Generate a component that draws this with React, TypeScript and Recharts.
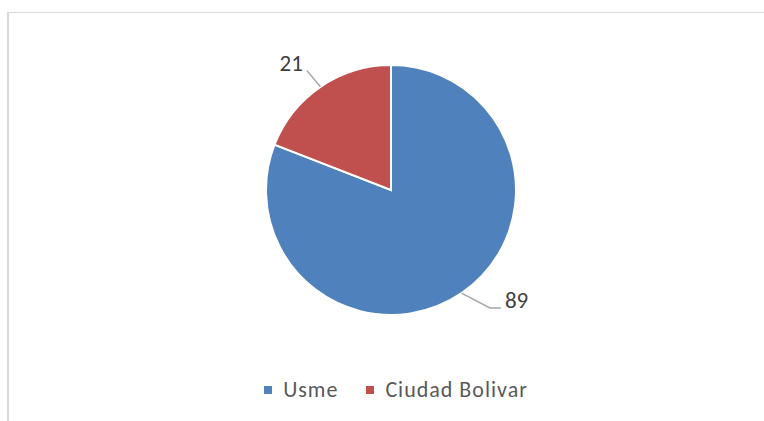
import { PieChart, Pie, Cell, Legend } from 'recharts'

const localidades = ['Usme', 'Ciudad Bolivar']
const cantidades = [89, 21]

const COLORS = ['#4f81bd', '#c0504d']
const FONT = "Carlito, Lato, 'Open Sans', sans-serif"
const RADIAN = Math.PI / 180

// ajuste fino de la posicion de cada etiqueta (angulo extra, distancia extra)
const LABEL_TWEAK = [
  { dAngle: 5.6, extra: 29 },
  { dAngle: 0.8, extra: 21 },
]

const data = localidades.map((name, i) => ({ name, value: cantidades[i] }))

// eslint-disable-next-line @typescript-eslint/no-explicit-any
function renderLabel(props: any) {
  const cx = Number(props.cx)
  const cy = Number(props.cy)
  const r = Number(props.outerRadius)
  const mid = Number(props.midAngle)
  const tw = LABEL_TWEAK[props.index] ?? { dAngle: 0, extra: 22 }

  const sx = cx + r * Math.cos(-mid * RADIAN)
  const sy = cy + r * Math.sin(-mid * RADIAN)
  const a = mid + tw.dAngle
  const ex = cx + (r + tw.extra) * Math.cos(-a * RADIAN)
  const ey = cy + (r + tw.extra) * Math.sin(-a * RADIAN)
  const right = ex > cx
  const hx = right ? ex + 11 : ex
  const tx = right ? hx + 4 : ex - 4

  return (
    <g>
      <polyline
        points={`${sx},${sy} ${ex},${ey} ${hx},${ey}`}
        fill="none"
        stroke="#a6a6a6"
        strokeWidth={1.5}
      />
      <text
        x={tx}
        y={ey}
        textAnchor={right ? 'start' : 'end'}
        fill="#404040"
        fontSize={23}
        fontFamily={FONT}
      >
        {props.value}
      </text>
    </g>
  )
}

function renderLegend() {
  return (
    <div
      style={{
        display: 'flex',
        justifyContent: 'center',
        gap: 28,
        fontFamily: FONT,
        fontSize: 22,
        letterSpacing: 1,
        lineHeight: '24px',
        color: '#595959',
        paddingLeft: 28,
      }}
    >
      {data.map((d, i) => (
        <span key={d.name} style={{ display: 'flex', alignItems: 'center' }}>
          <span
            style={{
              width: 8,
              height: 8,
              background: COLORS[i],
              marginRight: 11,
              display: 'inline-block',
            }}
          />
          {d.name}
        </span>
      ))}
    </div>
  )
}

export default function App() {
  return (
    <div style={{ position: 'absolute', left: 0, top: 0, width: 764, height: 421, background: '#fff', overflow: 'hidden' }}>
      <div
        style={{
          position: 'absolute',
          left: 7,
          top: 12,
          width: 800,
          height: 500,
          borderLeft: '2px solid #d9d9d9',
          borderTop: '1px solid #d9d9d9',
          pointerEvents: 'none',
        }}
      />
      <PieChart
        width={764}
        height={421}
        margin={{ top: 0, right: 0, bottom: 0, left: 0 }}
        style={{ position: 'absolute', left: 0, top: 0 }}
      >
        <Pie
          data={data}
          dataKey="value"
          nameKey="name"
          cx={391}
          cy={190}
          outerRadius={125}
          startAngle={90}
          endAngle={-270}
          stroke="#ffffff"
          strokeWidth={2}
          label={renderLabel}
          labelLine={false}
          isAnimationActive={false}
        >
          {data.map((_, i) => (
            <Cell key={i} fill={COLORS[i]} />
          ))}
        </Pie>
        <Legend
          content={renderLegend}
          verticalAlign="bottom"
          wrapperStyle={{ top: 378, bottom: 'auto', left: 0, width: 764 }}
        />
      </PieChart>
    </div>
  )
}
